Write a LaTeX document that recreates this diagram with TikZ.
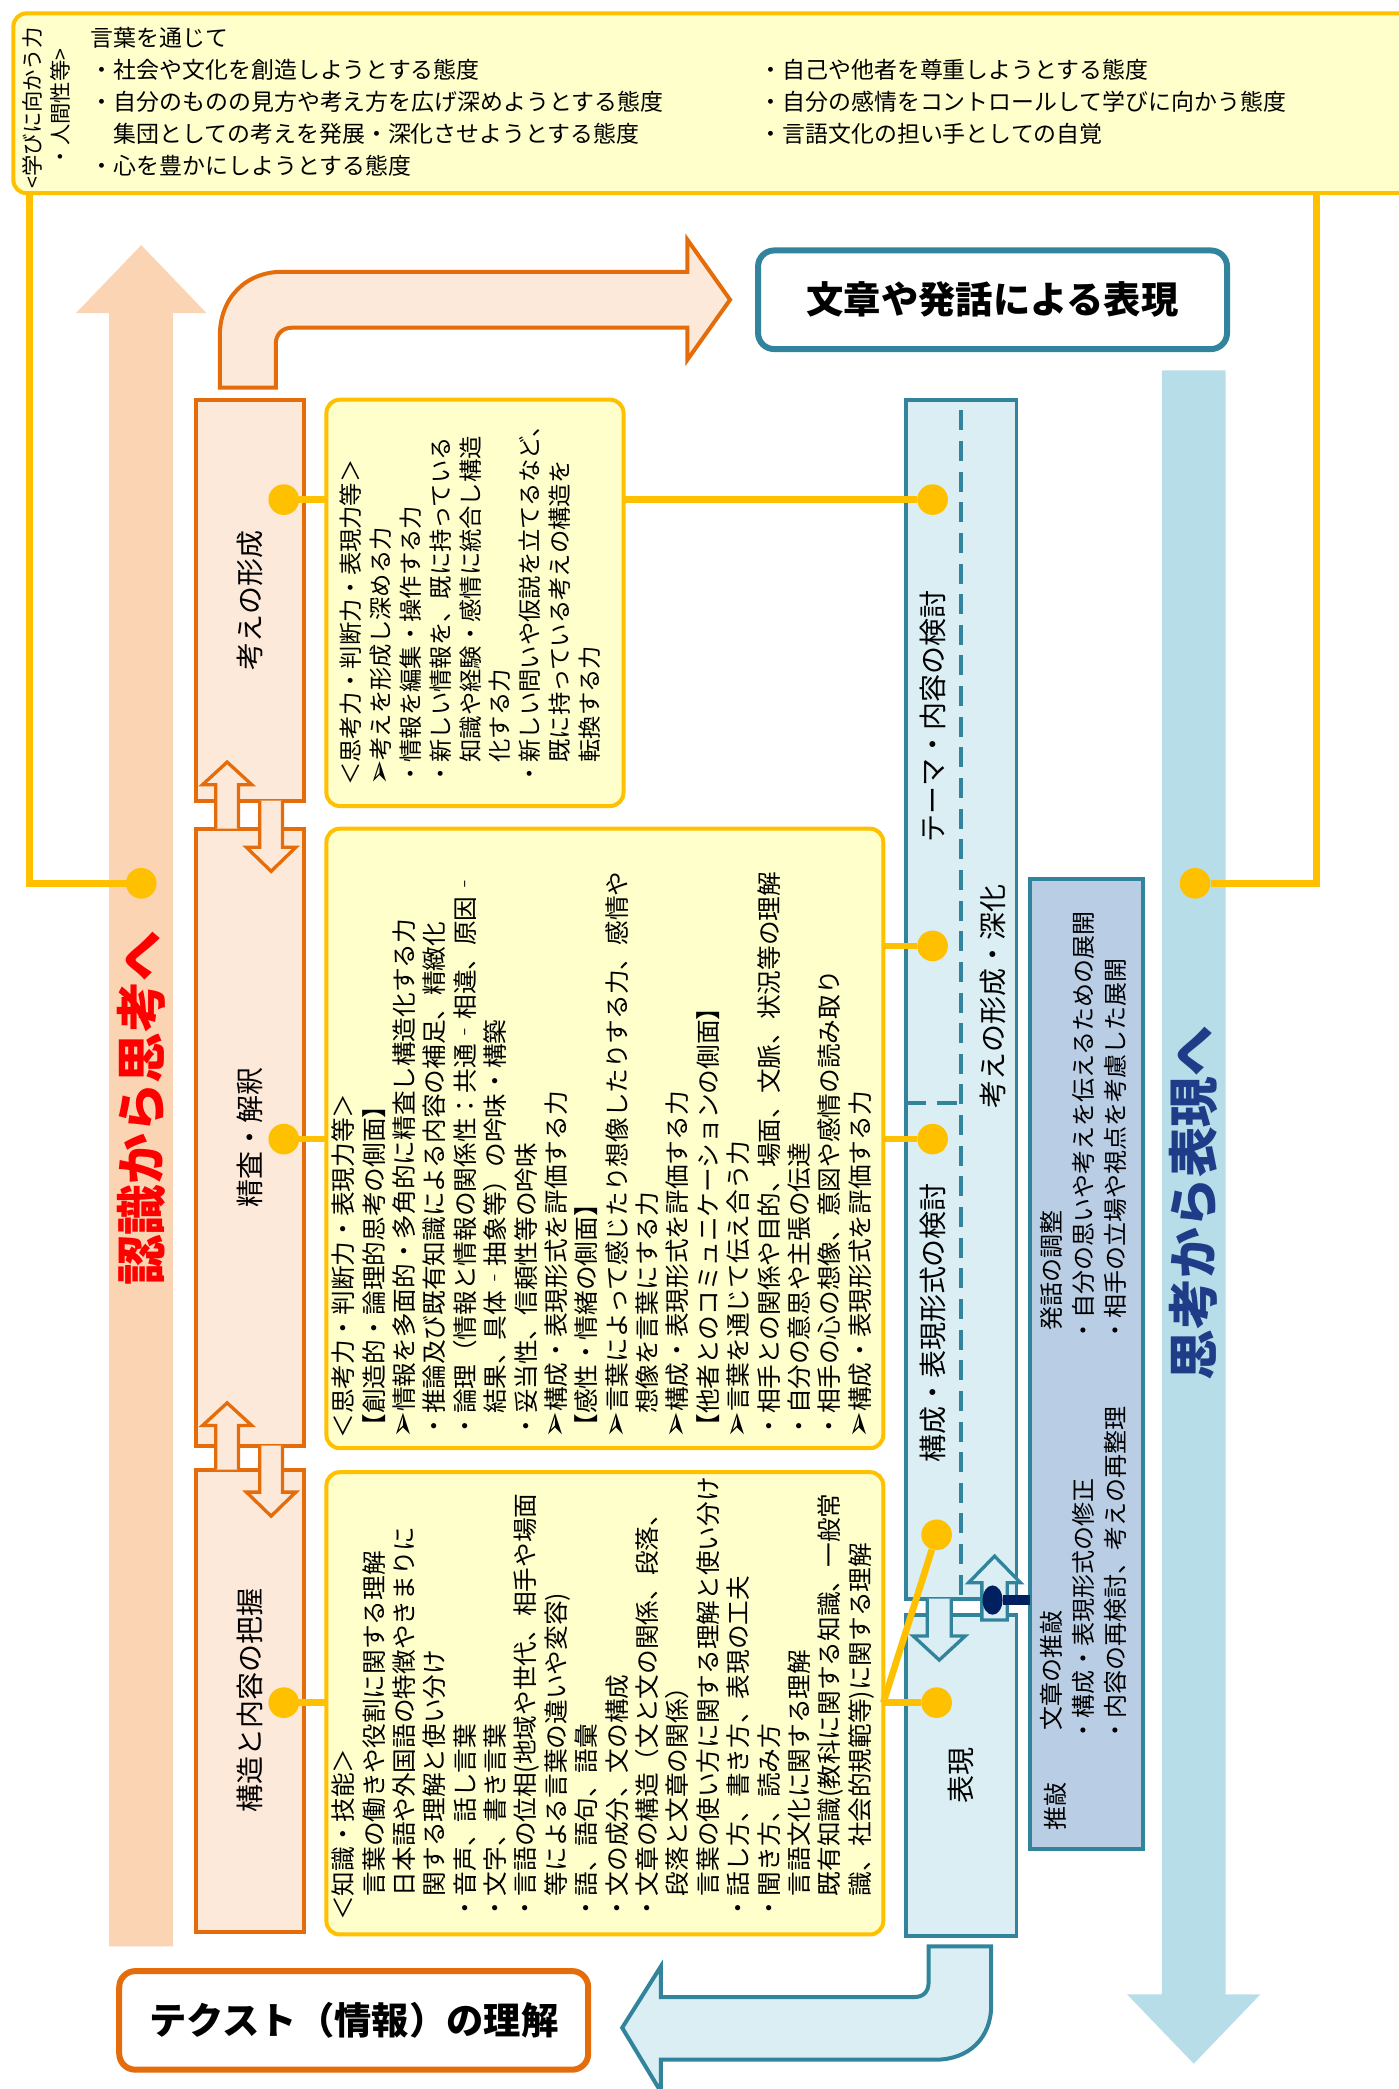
\documentclass[tikz,border=0pt]{standalone}
\usepackage{fontspec}
\setmainfont{Noto Sans CJK JP}
\newfontfamily\symfont{DejaVu Sans}[Scale=1.3]
\usetikzlibrary{shapes.geometric}

\definecolor{gold}{HTML}{FFC000}
\definecolor{lemon}{HTML}{FFFFCC}
\definecolor{rust}{HTML}{E46C0A}
\definecolor{peach}{HTML}{FDE9D9}
\definecolor{apricot}{HTML}{FBD4B4}
\definecolor{tealline}{HTML}{31849B}
\definecolor{ice}{HTML}{DAEEF3}
\definecolor{sky}{HTML}{B7DEE8}
\definecolor{steel}{HTML}{B9CDE5}
\definecolor{navyline}{HTML}{002060}
\definecolor{ink}{HTML}{1F3C88}

\newcommand{\arrowmark}{{\symfont ➢}}

\begin{document}
\begin{tikzpicture}[x=1pt, y=-1pt,
    ybox/.style={draw=gold, fill=lemon, line width=3pt, rounded corners=10pt, inner sep=0pt, outer sep=0pt},
    obox/.style={draw=rust, fill=peach, line width=3pt, inner sep=0pt, outer sep=0pt},
    pbox/.style={draw=tealline, fill=ice, line width=2.8pt, inner sep=0pt, outer sep=0pt},
    bigbox/.style={fill=white, line width=4.5pt, rounded corners=12pt, inner sep=0pt, outer sep=0pt,
      minimum width=352pt, minimum height=74pt, font=\fontsize{28}{30}\selectfont\bfseries},
    gdot/.style={circle, fill=gold, inner sep=0pt, minimum size=23pt},
    gline/.style={gold, line width=5pt},
    lbl/.style={rotate=90, inner sep=0pt, font=\fontsize{21}{25}\selectfont},
    biglbl/.style={rotate=90, inner sep=0pt, font=\fontsize{38}{40}\selectfont\bfseries},
    txt/.style={rotate=90, anchor=north west, align=left, inner sep=0pt},
    harrowO/.style={draw=rust, fill=peach, line width=2.5pt},
    harrowB/.style={draw=tealline, fill=ice, line width=2.5pt},
    dashline/.style={tealline, line width=2.8pt, dash pattern=on 15pt off 8pt},
  ]
\useasboundingbox (0,0) rectangle (1050,1568);

% big background arrows
\fill[apricot] (82,1461) -- (82,235) -- (57,235) -- (106,184) -- (155,235) -- (130,235) -- (130,1461) -- cycle;
\fill[sky] (872,278) -- (920,278) -- (920,1497) -- (946,1497) -- (896,1549) -- (846,1497) -- (872,1497) -- cycle;

% top box
\node[ybox, minimum width=1060pt, minimum height=135pt] (gakubi) at (540,77.5) {};
\node[rotate=90, align=center, inner sep=0pt, font=\fontsize{16}{21}\selectfont] (gakubihead) at (35,81)
  {<学びに向かう力\\・人間性等>};
\node[anchor=north west, align=left, inner sep=0pt, font=\fontsize{17.2}{24}\selectfont] (gakubiL) at (68,20)
  {言葉を通じて\\
   ・社会や文化を創造しようとする態度\\
   ・自分のものの見方や考え方を広げ深めようとする態度\\
   　集団としての考えを発展・深化させようとする態度\\
   ・心を豊かにしようとする態度};
\node[anchor=north west, align=left, inner sep=0pt, font=\fontsize{17.2}{24}\selectfont] (gakubiR) at (570,44)
  {・自己や他者を尊重しようとする態度\\
   ・自分の感情をコントロールして学びに向かう態度\\
   ・言語文化の担い手としての自覚};

% lines down from top box
\node[gdot] (dL) at (106,663) {};
\node[gdot] (dR) at (897,663) {};
\draw[gline] ([xshift=12pt]gakubi.south west) |- (dL);
\draw[gline] ([xshift=978pt]gakubi.south west) |- (dR);

\node[biglbl, text=red] (ninshiki) at (106,832) {認識から思考へ};
\node[biglbl, text=ink] (shikou) at (896,903) {思考から表現へ};

% bent arrow to the output box
\draw[harrowO, line width=3pt] (165,291) -- (165,252) .. controls (165,224) and (184,204) .. (212,204)
  -- (516,204) -- (516,180) -- (548,225) -- (516,270) -- (516,246) -- (219,246)
  .. controls (212,246) and (207,251) .. (207,258) -- (207,291) -- cycle;
\node[bigbox, draw=tealline] (hyogen) at (745,225) {文章や発話による表現};

% left column
\node[obox, minimum width=81pt, minimum height=301pt] (kA) at (187.5,450.5) {};
\node[obox, minimum width=81pt, minimum height=463pt] (kB) at (187.5,853.5) {};
\node[obox, minimum width=81pt, minimum height=347pt] (kC) at (187.5,1276.5) {};
\node[lbl] (kAlbl) at (kA) {考えの形成};
\node[lbl] (kBlbl) at (kB) {精査・解釈};
\node[lbl] (kClbl) at (kC) {構造と内容の把握};

\draw[harrowO, shift={(kB.north)}] (-25.5,0) -- (-25.5,-33) -- (-35.5,-33) -- (-17,-50) -- (1.5,-33) -- (-8.5,-33) -- (-8.5,0);
\draw[harrowO, shift={(kA.south)}] (7.5,0) -- (7.5,35) -- (-2.5,35) -- (16,53) -- (34.5,35) -- (24.5,35) -- (24.5,0);
\draw[harrowO, shift={(kC.north)}] (-25.5,0) -- (-25.5,-33) -- (-35.5,-33) -- (-17,-50) -- (1.5,-33) -- (-8.5,-33) -- (-8.5,0);
\draw[harrowO, shift={(kB.south)}] (7.5,0) -- (7.5,35) -- (-2.5,35) -- (16,53) -- (34.5,35) -- (24.5,35) -- (24.5,0);

% yellow text boxes
\node[ybox, minimum width=223pt, minimum height=305pt] (yA) at (356.5,452.5) {};
\node[ybox, minimum width=418pt, minimum height=465pt] (yB) at (454,854.5) {};
\node[ybox, minimum width=418pt, minimum height=347pt] (yC) at (454,1278.5) {};

\node[txt, font=\fontsize{17.5}{22.4}\selectfont] (yAtxt) at (255,590)
  {＜思考力・判断力・表現力等＞\\
   \arrowmark 考えを形成し深める力\\
   ・情報を編集・操作する力\\
   ・新しい情報を、既に持っている\\
   　知識や経験・感情に統合し構造\\
   　化する力\\
   ・新しい問いや仮説を立てるなど、\\
   　既に持っている考えの構造を\\
   　転換する力};
\node[txt, font=\fontsize{18.5}{22.8}\selectfont] (yBtxt) at (249,1080)
  {＜思考力・判断力・表現力等＞\\
   【創造的・論理的思考の側面】\\
   \arrowmark 情報を多面的・多角的に精査し構造化する力\\
   ・推論及び既有知識による内容の補足、精緻化\\
   ・論理（情報と情報の関係性：共通‐相違、原因‐\\
   　結果、具体‐抽象等）の吟味・構築\\
   ・妥当性、信頼性等の吟味\\
   \arrowmark 構成・表現形式を評価する力\\
   【感性・情緒の側面】\\
   \arrowmark 言葉によって感じたり想像したりする力、感情や\\
   　想像を言葉にする力\\
   \arrowmark 構成・表現形式を評価する力\\
   【他者とのコミュニケーションの側面】\\
   \arrowmark 言葉を通じて伝え合う力\\
   ・相手との関係や目的、場面、文脈、状況等の理解\\
   ・自分の意思や主張の伝達\\
   ・相手の心の想像、意図や感情の読み取り\\
   \arrowmark 構成・表現形式を評価する力};
\node[txt, font=\fontsize{18.5}{22.8}\selectfont] (yCtxt) at (249,1442)
  {＜知識・技能＞\\
   　言葉の働きや役割に関する理解\\
   　日本語や外国語の特徴やきまりに\\
   　関する理解と使い分け\\
   ・音声、話し言葉\\
   ・文字、書き言葉\\
   ・言語の位相(地域や世代、相手や場面\\
   　等による言葉の違いや変容)\\
   ・語、語句、語彙\\
   ・文の成分、文の構成\\
   ・文章の構造（文と文の関係、段落、\\
   　段落と文章の関係）\\
   　言葉の使い方に関する理解と使い分け\\
   ・話し方、書き方、表現の工夫\\
   ・聞き方、読み方\\
   　言語文化に関する理解\\
   　既有知識(教科に関する知識、一般常\\
   　識、社会的規範等)に関する理解};

% right panel
\node[pbox, minimum width=83pt, minimum height=900pt] (pU) at (721.5,750) {};
\node[pbox, minimum width=83pt, minimum height=241pt] (pL) at (721.5,1332.5) {};
\coordinate (mid) at (722,828);
\draw[dashline] ([yshift=-8pt]pU.north) -- (pU.south);
\draw[dashline] (pU.west |- mid) -- (mid);
\node[lbl] (pl1) at (700,538) {テーマ・内容の検討};
\node[lbl] (pl2) at (745,748) {考えの形成・深化};
\node[lbl] (pl3) at (700,993) {構成・表現形式の検討};
\node[lbl] (pl4) at (pL) {表現};

\draw[harrowB, shift={(pU.south)}] (-25.5,0) -- (-25.5,28) -- (-36,28) -- (-16.5,46) -- (3,28) -- (-7.5,28) -- (-7.5,0);
\draw[harrowB, shift={(pL.north)}] (15.5,4) -- (15.5,-24) -- (5.5,-24) -- (25,-44) -- (44.5,-24) -- (34.5,-24) -- (34.5,4) -- cycle;

% revision box
\node[draw=tealline, fill=steel, line width=2.8pt, inner sep=0pt, outer sep=0pt,
  minimum width=85pt, minimum height=728pt] (suiko) at (815.5,1024) {};
\node[lbl, font=\fontsize{18}{24}\selectfont] (suikolbl) at (792,1356) {推敲};
\node[txt, font=\fontsize{18}{24}\selectfont] (suiko1) at (781,1308)
  {\hspace*{0.5em}文章の推敲\\・構成・表現形式の修正\\・内容の再検討、考えの再整理};
\node[txt, font=\fontsize{18}{24}\selectfont] (suiko2) at (781,1008)
  {\hspace*{0.5em}発話の調整\\・自分の思いや考えを伝えるための展開\\・相手の立場や視点を考慮した展開};
\node[ellipse, fill=navyline, inner sep=0pt, minimum width=15pt, minimum height=22pt] (nv) at (745,1201) {};
\draw[navyline, line width=7pt] (nv) -- (nv -| suiko.west);

% gold connectors
\node[gdot] (sA) at (213,375) {};
\node[gdot] (sB) at (213,855) {};
\node[gdot] (sC) at (213,1278) {};
\node[gdot] (t1) at (700,375) {};
\node[gdot] (t2) at (700,710) {};
\node[gdot] (t3) at (700,855) {};
\node[gdot] (t4) at (703,1152) {};
\node[gdot] (t5) at (703,1278) {};
\draw[gline] (sA) -- (sA -| yA.west);
\draw[gline] (sB) -- (sB -| yB.west);
\draw[gline] (sC) -- (sC -| yC.west);
\draw[gline] (yA.east |- t1) -- (t1);
\draw[gline] (yB.east |- t2) -- (t2);
\draw[gline] (yB.east |- t3) -- (t3);
\draw[gline] (yC.east |- t5) -- (t5);
\draw[gline] (yC.east |- t5) -- (t4);

% bent arrow to the text box
\draw[harrowB, line width=3pt] (697,1461) -- (744,1461) -- (744,1505) .. controls (744,1530) and (727,1546) .. (702,1546)
  -- (496,1546) -- (496,1570) -- (467,1522) -- (496,1476) -- (496,1499) -- (686,1499)
  .. controls (693,1499) and (697,1495) .. (697,1488) -- cycle;
\node[bigbox, draw=rust] (texto) at (265.5,1516.5) {テクスト（情報）の理解};
\end{tikzpicture}
\end{document}
